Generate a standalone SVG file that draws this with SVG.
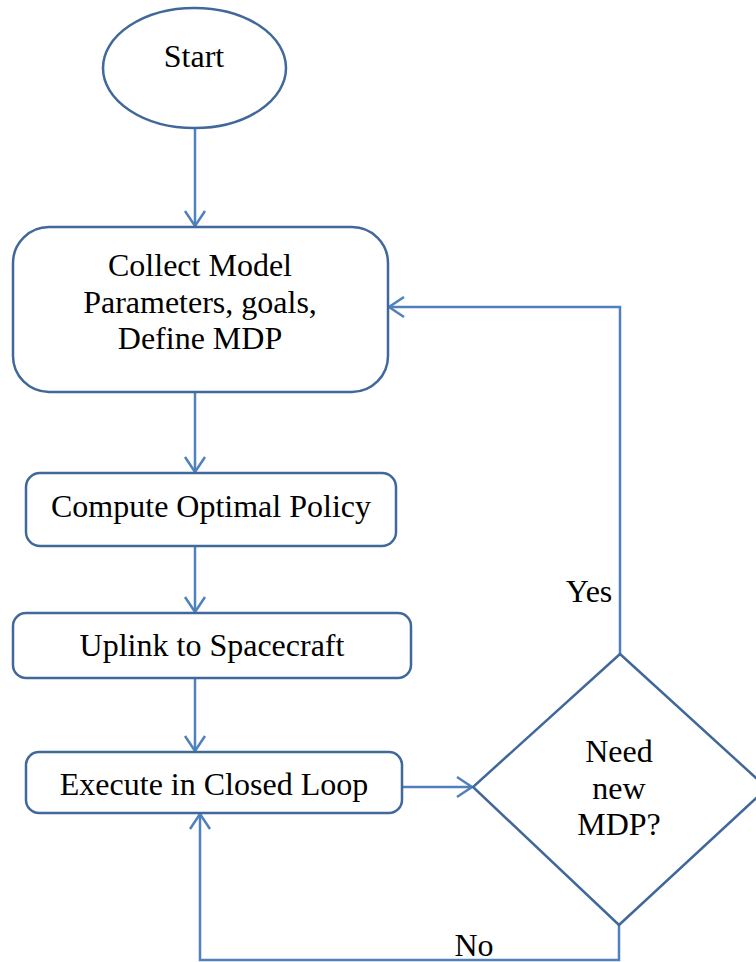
<svg xmlns="http://www.w3.org/2000/svg" width="756" height="962" viewBox="0 0 756 962">
  <style>
    .shape { fill: #ffffff; stroke: #41689A; stroke-width: 2.5; }
    .link { fill: none; stroke: #4F81BD; stroke-width: 2.5; }
    .label { font-family: "Liberation Serif", "Times New Roman", serif; font-size: 32px; fill: #000000; text-anchor: middle; }
  </style>
  <defs>
    <marker id="open-arrow" markerUnits="userSpaceOnUse" markerWidth="24" markerHeight="26" refX="18" refY="12" orient="auto">
      <path d="M3,2 L18,12 L3,22" fill="none" stroke="#4F81BD" stroke-width="2.5"/>
    </marker>
  </defs>

  <!-- connectors -->
  <g id="connectors">
    <path class="link" d="M195,128 V226" marker-end="url(#open-arrow)"/>
    <path class="link" d="M195,392 V472" marker-end="url(#open-arrow)"/>
    <path class="link" d="M195,546 V612" marker-end="url(#open-arrow)"/>
    <path class="link" d="M195,678 V751" marker-end="url(#open-arrow)"/>
    <path class="link" d="M402,787 H472" marker-end="url(#open-arrow)"/>
    <path class="link" d="M620,654 V307 H389" marker-end="url(#open-arrow)"/>
    <path class="link" d="M619,925 V960 H200 V814" marker-end="url(#open-arrow)"/>
    <text class="label" x="589" y="602">Yes</text>
    <text class="label" x="474" y="956">No</text>
  </g>

  <g id="start">
    <ellipse class="shape" cx="194.5" cy="68" rx="91.5" ry="60"/>
    <text class="label" x="194" y="67">Start</text>
  </g>

  <g id="collect">
    <rect class="shape" x="13" y="227" width="375" height="165" rx="36" ry="36"/>
    <text class="label" x="200" y="276">Collect Model</text>
    <text class="label" x="200" y="313">Parameters, goals,</text>
    <text class="label" x="200" y="349">Define MDP</text>
  </g>

  <g id="compute">
    <rect class="shape" x="26" y="473" width="370" height="73" rx="14" ry="14"/>
    <text class="label" x="211" y="517">Compute Optimal Policy</text>
  </g>

  <g id="uplink">
    <rect class="shape" x="13" y="613" width="398" height="65" rx="13" ry="13"/>
    <text class="label" x="212" y="656">Uplink to Spacecraft</text>
  </g>

  <g id="execute">
    <rect class="shape" x="26" y="752" width="376" height="61" rx="13" ry="13"/>
    <text class="label" x="214" y="795">Execute in Closed Loop</text>
  </g>

  <g id="decision">
    <polygon class="shape" points="620,654 767,788 619,925 473,787"/>
    <text class="label" x="619" y="762">Need</text>
    <text class="label" x="619" y="799">new</text>
    <text class="label" x="619" y="835">MDP?</text>
  </g>
</svg>
